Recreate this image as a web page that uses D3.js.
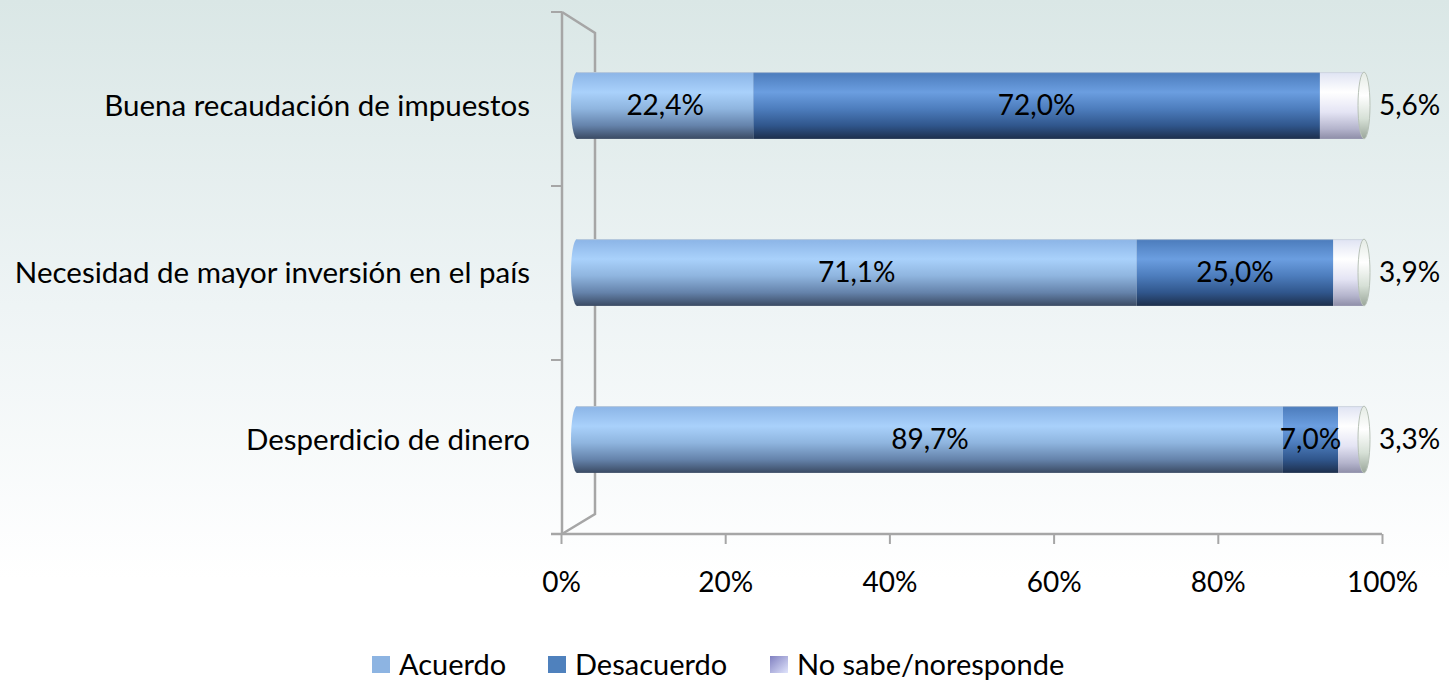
<!DOCTYPE html>
<html lang="es">
<head>
<meta charset="UTF-8">
<title>Opinión sobre impuestos</title>
<style>
    body { margin: 0; background: #ffffff; }
    svg { display: block; }
    text { font-family: Lato, "Open Sans", sans-serif; fill: #000; }
</style>
</head>
<body>
<script src="https://cdn.jsdelivr.net/npm/d3@7/dist/d3.min.js"></script>
<script>
    // data
    var categories = ["Buena recaudación de impuestos", "Necesidad de mayor inversión en el país", "Desperdicio de dinero"];
    var seriesNames = ["Acuerdo", "Desacuerdo", "No sabe/noresponde"];
    var acuerdo = [22.4, 71.1, 89.7];
    var desacuerdo = [72.0, 25.0, 7.0];
    var noSabe = [5.6, 3.9, 3.3];
    var tickValues = [0, 20, 40, 60, 80, 100];

    var width = 1449, height = 680;

    var svg = d3.select("body").append("svg")
        .attr("width", width)
        .attr("height", height);

    var defs = svg.append("defs");

    // background wash
    var bg = defs.append("linearGradient").attr("id", "bg")
        .attr("x1", 0).attr("y1", 0).attr("x2", 0).attr("y2", 1);
    bg.append("stop").attr("offset", "0%").attr("stop-color", "#dae7e6");
    bg.append("stop").attr("offset", "45%").attr("stop-color", "#eef4f5");
    bg.append("stop").attr("offset", "85%").attr("stop-color", "#ffffff");
    svg.append("rect").attr("width", width).attr("height", height).attr("fill", "url(#bg)");

    // cylinder shading, one per series
    function shade(id, stops) {
        var g = defs.append("linearGradient").attr("id", id)
            .attr("x1", 0).attr("y1", 0).attr("x2", 0).attr("y2", 1);
        stops.forEach(function(s) {
            g.append("stop").attr("offset", s[0]).attr("stop-color", s[1]);
        });
    }
    shade("g0", [["0%", "#8bb4e6"], ["30%", "#a9d1fb"], ["55%", "#8fb5df"], ["80%", "#6583ab"], ["100%", "#3a4a63"]]);
    shade("g1", [["0%", "#4b7bbb"], ["30%", "#6b9ee0"], ["55%", "#4d7dbd"], ["80%", "#30568c"], ["100%", "#1d2f4c"]]);
    shade("g2", [["0%", "#dfe3f3"], ["30%", "#ffffff"], ["60%", "#e4e4f4"], ["85%", "#b4b4cc"], ["100%", "#8e8ea8"]]);
    shade("gcap", [["0%", "#e4ebe4"], ["35%", "#ffffff"], ["70%", "#d6e0d6"], ["100%", "#9aa69a"]]);
    var legendGrad = defs.append("linearGradient").attr("id", "gleg")
        .attr("x1", 0).attr("y1", 0).attr("x2", 1).attr("y2", 1);
    legendGrad.append("stop").attr("offset", "0%").attr("stop-color", "#8080c0");
    legendGrad.append("stop").attr("offset", "100%").attr("stop-color", "#e0e4fc");

    var fills = ["url(#g0)", "url(#g1)", "url(#g2)"];

    // scales: axis on the floor, bars drawn a bit deeper
    var xAxisScale = d3.scaleLinear().domain([0, 100]).range([561, 1382]);
    var xBar = d3.scaleLinear().domain([0, 100]).range([577, 1364]);
    var yWall = d3.scaleBand().domain(categories).range([12, 534]);
    var yBar = d3.scaleBand().domain(categories).range([22, 523])
        .paddingInner(0.6).paddingOuter(0.3);

    var gridColor = "#a6a6a6";

    // side wall (3D frame)
    svg.append("path")
        .attr("d", "M562,12L595,33L595,514L562,534")
        .attr("fill", "none").attr("stroke", gridColor).attr("stroke-width", 2.5);
    svg.append("line")
        .attr("x1", 562).attr("y1", 12).attr("x2", 562).attr("y2", 534)
        .attr("stroke", gridColor).attr("stroke-width", 2.5);

    // category tick marks on the wall
    var catTicks = [yWall.range()[0]].concat(categories.map(function(c) { return yWall(c) + yWall.bandwidth(); }));
    svg.selectAll(".ctick").data(catTicks).enter().append("line")
        .attr("x1", 551).attr("x2", 562)
        .attr("y1", function(d) { return d; }).attr("y2", function(d) { return d; })
        .attr("stroke", gridColor).attr("stroke-width", 2);

    // x axis
    var xAxis = d3.axisBottom(xAxisScale)
        .tickValues(tickValues)
        .tickFormat(function(d) { return d + "%"; })
        .tickSize(10).tickPadding(28);
    var ax = svg.append("g").attr("transform", "translate(0,534)").call(xAxis);
    ax.select(".domain").attr("stroke", gridColor).attr("stroke-width", 2.5)
        .attr("d", "M551,0H1382");
    ax.selectAll(".tick line").attr("stroke", gridColor).attr("stroke-width", 2);
    ax.selectAll(".tick text").attr("font-size", 28).attr("font-family", "Lato, sans-serif").attr("fill", "#000");

    // category labels
    svg.selectAll(".cat").data(categories).enter().append("text")
        .attr("x", 530)
        .attr("y", function(d) { return yBar(d) + yBar.bandwidth() / 2; })
        .attr("dy", "0.35em")
        .attr("text-anchor", "end")
        .attr("font-size", 29.5)
        .text(function(d) { return d; });

    // stacked rows
    var rows = categories.map(function(c, i) {
        var vals = [acuerdo[i], desacuerdo[i], noSabe[i]];
        var x0 = 0, segs = [];
        vals.forEach(function(v, k) {
            segs.push({cat: c, k: k, v: v, start: x0, end: x0 + v});
            x0 += v;
        });
        return {cat: c, segs: segs, total: x0};
    });

    var bh = yBar.bandwidth();
    var rx = 6;

    rows.forEach(function(row) {
        var yTop = yBar(row.cat);
        var g = svg.append("g");

        // rounded left cap
        g.append("ellipse")
            .attr("cx", xBar(0)).attr("cy", yTop + bh / 2)
            .attr("rx", rx).attr("ry", bh / 2)
            .attr("fill", fills[0]);

        g.selectAll("rect").data(row.segs).enter().append("rect")
            .attr("x", function(d) { return xBar(d.start); })
            .attr("y", yTop)
            .attr("width", function(d) { return xBar(d.end) - xBar(d.start); })
            .attr("height", bh)
            .attr("fill", function(d) { return fills[d.k]; });

        // top edge line
        g.append("line")
            .attr("x1", xBar(0)).attr("x2", xBar(row.total))
            .attr("y1", yTop + 0.5).attr("y2", yTop + 0.5)
            .attr("stroke", "#c8d0d8").attr("stroke-width", 1).attr("opacity", 0.7);

        // right end face
        g.append("ellipse")
            .attr("cx", xBar(row.total)).attr("cy", yTop + bh / 2)
            .attr("rx", rx).attr("ry", bh / 2)
            .attr("fill", "url(#gcap)")
            .attr("stroke", "#b8c2b8").attr("stroke-width", 1);

        // value labels: first two inside, last outside
        g.selectAll("text").data(row.segs).enter().append("text")
            .attr("x", function(d) {
                return d.k < 2 ? (xBar(d.start) + xBar(d.end)) / 2 : xBar(row.total) + rx + 9;
            })
            .attr("y", yTop + bh / 2)
            .attr("dy", "0.35em")
            .attr("text-anchor", function(d) { return d.k < 2 ? "middle" : "start"; })
            .attr("font-size", 28)
            .text(function(d) { return d3.format(".1f")(d.v).replace(".", ",") + "%"; });
    });

    // legend
    var legendX = [372, 548, 770];
    var legend = svg.selectAll(".leg").data(seriesNames).enter().append("g")
        .attr("transform", function(d, i) { return "translate(" + legendX[i] + ",656)"; });
    legend.append("rect")
        .attr("width", 18).attr("height", 17)
        .attr("fill", function(d, i) { return ["#8db4e2", "#4f81bd", "url(#gleg)"][i]; });
    legend.append("text")
        .attr("x", 27).attr("y", 9).attr("dy", "0.35em")
        .attr("font-size", 29)
        .text(function(d) { return d; });
</script>
</body>
</html>
